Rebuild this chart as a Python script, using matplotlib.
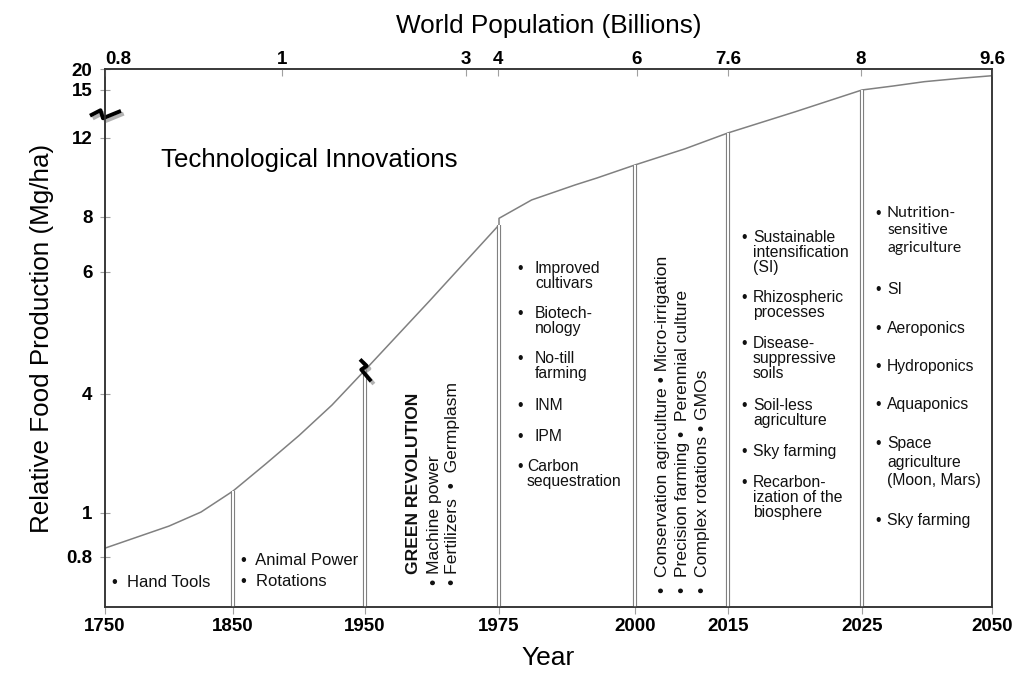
import matplotlib
matplotlib.use("Agg")
import matplotlib.pyplot as plt
import matplotlib.patheffects as pe
import numpy as np
from matplotlib.markers import MarkerStyle
from matplotlib.path import Path
from matplotlib.transforms import Affine2D

plt.rcParams["font.family"] = ["Liberation Sans", "DejaVu Sans"]

# relative food production curve (Mg/ha)
# (1975 appears twice: the curve steps up across the era boundary there)
YEARS = [1750, 1800, 1825, 1850, 1875, 1900, 1925, 1950, 1962, 1975, 1975, 1981, 1989, 1993, 2000,
         2008, 2015, 2020, 2025, 2031, 2037, 2044, 2050]
YIELD = [0.84, 0.94, 1.02, 1.55, 2.24, 2.95, 3.72, 4.39, 5.52, 7.71, 7.95, 8.86, 9.62, 9.97, 10.63,
         11.44, 12.31, 13.63, 15.0, 15.95, 16.98, 17.79, 18.4]
ERA_BOUNDS = [1850, 1950, 1975, 2000, 2015, 2025]
AXIS_BREAK = (1750, 13.5)

YEAR_TICKS = [1750, 1850, 1950, 1975, 2000, 2015, 2025, 2050]
YIELD_TICKS = [0.8, 1, 4, 6, 8, 12, 15, 20]
YIELD_LABELS = ["0.8", "1", "4", "6", "8", "12", "15", "20"]
POP_TICKS = [0.8, 1, 3, 4, 6, 7.6, 8, 9.6]
POP_LABELS = ["0.8", "1", "3", "4", "6", "7.6", "8", "9.6"]

ERA_1750 = ["Hand Tools"]
ERA_1850 = ["Animal Power", "Rotations"]
GREEN_REV = ["GREEN REVOLUTION", "\u2022 Machine power", "\u2022 Fertilizers  \u2022  Germplasm"]
ERA_1975 = ["Improved\ncultivars", "Biotech-\nnology", "No-till\nfarming", "INM", "IPM", "Carbon\nsequestration"]
ERA_2000 = ["\u2022  Conservation agriculture \u2022 Micro-irrigation",
            "\u2022  Precision farming \u2022  Perennial culture",
            "\u2022  Complex rotations \u2022 GMOs"]
ERA_2015 = ["Sustainable\nintensification\n(SI)", "Rhizospheric\nprocesses", "Disease-\nsuppressive\nsoils",
            "Soil-less\nagriculture", "Sky farming", "Recarbon-\nization of the\nbiosphere"]
ERA_2025 = ["Nutrition-\nsensitive\nagriculture", "SI", "Aeroponics", "Hydroponics", "Aquaponics",
            "Space\nagriculture\n(Moon, Mars)", "Sky farming"]

# both axes are stretched piecewise: where each tick sits along the axis (fraction)
X_POS = [0, 0.1443, 0.2931, 0.4442, 0.5975, 0.7024, 0.8534, 1.0]
Y_KNOTS = [0.6, 0.8, 1, 4, 6, 8, 12, 15, 20]
Y_POS = [0, 0.093, 0.175, 0.396, 0.623, 0.725, 0.872, 0.961, 1.0]
P_POS = [0, 0.1996, 0.4066, 0.4427, 0.5994, 0.7026, 0.8523, 1.0]


def piecewise(knots, pos):
    return (lambda v: np.interp(v, knots, pos), lambda p: np.interp(p, pos, knots))


# layout helpers: reference pixel -> axes fraction
def fx(px):
    return (px - 105) / 887


def fy(py):
    return (607 - py) / 538


GRAY = "#808080"
SPINE = "#333333"

fig = plt.figure(figsize=(10.24, 6.75), dpi=100)
ax = fig.add_axes([105 / 1024, 68 / 675, 887 / 1024, 538 / 675])
ax.set_xscale("function", functions=piecewise(YEAR_TICKS, X_POS))
ax.set_yscale("function", functions=piecewise(Y_KNOTS, Y_POS))
ax.set_xlim(1750, 2050)
ax.set_ylim(0.6, 20)

ax.plot(YEARS, YIELD, color=GRAY, lw=1.1, zorder=2)
tops = [YIELD[YEARS.index(y)] for y in ERA_BOUNDS]
ax.vlines(ERA_BOUNDS, 0.6, tops, color=GRAY, lw=3.0, zorder=3)
ax.vlines(ERA_BOUNDS, 0.6, tops, color="white", lw=1.4, zorder=4)

# axis-break marks
zig = Path([(-0.94, -0.11), (-0.28, 0.23), (-0.13, -0.27), (1.0, 0.19)])
shadow = [pe.SimpleLineShadow(offset=(2, -2), shadow_color="0.5", alpha=0.6), pe.Normal()]
ax.plot([AXIS_BREAK[0]], [AXIS_BREAK[1]], ls="none", marker=MarkerStyle(zig, fillstyle="none"),
        ms=23, mew=2.8, mec="black", clip_on=False, zorder=6, path_effects=shadow)
ax.plot([1950], [YIELD[YEARS.index(1950)]], ls="none",
        marker=MarkerStyle(zig, fillstyle="none", transform=Affine2D().rotate_deg(-72)),
        ms=18, mew=2.8, mec="black", zorder=6, path_effects=shadow)

for s in ax.spines.values():
    s.set_color(SPINE)
    s.set_linewidth(1.1)

ax.set_xticks(YEAR_TICKS)
ax.set_xticklabels([str(y) for y in YEAR_TICKS], fontweight="bold", fontsize=13.5)
ax.set_yticks(YIELD_TICKS)
ax.set_yticklabels(YIELD_LABELS, fontweight="bold", fontsize=13.5)
ax.minorticks_off()
ax.tick_params(axis="x", direction="out", length=5, width=0.8, color="#a0a0a0", pad=3, top=False)
ax.tick_params(axis="y", direction="inout", length=7, width=0.8, color="#a0a0a0", pad=5.5, right=False)
ax.set_xlabel("Year", fontsize=19)
ax.xaxis.set_label_coords(0.5, -0.072)
ax.set_ylabel("Relative Food Production (Mg/ha)", fontsize=18.7)
ax.yaxis.set_label_coords(-0.058, 0.5)

ax2 = ax.twiny()
ax2.set_xscale("function", functions=piecewise(POP_TICKS, P_POS))
ax2.set_xlim(0.8, 9.6)
ax2.set_xticks(POP_TICKS)
ax2.set_xticklabels(POP_LABELS, fontweight="bold", fontsize=13.5)
ax2.minorticks_off()
ax2.get_xticklabels()[0].set_ha("left")
ax2.tick_params(axis="x", direction="in", length=5, width=0.8, color="#a0a0a0", pad=1)
for s in ax2.spines.values():
    s.set_color(SPINE)
    s.set_linewidth(1.1)
ax2.set_xlabel("World Population (Billions)", fontsize=18.8, labelpad=13)

ax.text(fx(161), fy(167), "Technological Innovations", fontsize=18.6, transform=ax.transAxes, va="baseline")

txt = dict(transform=ax.transAxes, fontsize=12, color="#111111")
ax.text(fx(112), fy(587), "\u2022  " + ERA_1750[0], va="baseline", **txt)
for item, py in zip(ERA_1850, [565, 586]):
    ax.text(fx(241), fy(py), "\u2022  " + item, va="baseline", **txt)

rot = dict(transform=ax.transAxes, rotation=90, rotation_mode="anchor", ha="left", va="center",
           fontsize=12.6, color="#111111")
for line, px, py in zip(GREEN_REV, [413, 434, 453], [574, 585, 585]):
    ax.text(fx(px), fy(py), line, fontweight="bold" if line.isupper() else "normal", **rot)
for line, px in zip(ERA_2000, [662, 683, 703]):
    ax.text(fx(px), fy(593), line, **rot)

small = dict(transform=ax.transAxes, fontsize=11.3, va="top", linespacing=0.98, color="#111111")
for item, py, tx in zip(ERA_1975, [261, 306, 351, 398, 429, 459], [535, 535, 535, 535, 535, 527]):
    ax.text(fx(517), fy(py), "\u2022", **small)
    ax.text(fx(tx), fy(py), item, **small)
for item, py in zip(ERA_2015, [230, 290, 336, 398, 444, 475]):
    ax.text(fx(741), fy(py), "\u2022", **small)
    ax.text(fx(753), fy(py), item, **small)
for i, (item, py) in enumerate(zip(ERA_2025, [206, 282, 321, 359, 397, 436, 513])):
    ax.text(fx(875), fy(py), "\u2022", **small)
    # the first entry is set in a different (Calibri-like) face in the original
    fam = ["Lato", "DejaVu Sans"] if i == 0 else ["Liberation Sans", "DejaVu Sans"]
    ax.text(fx(887), fy(py), item, family=fam, **dict(small, linespacing=1.3))

fig.savefig("out.png", dpi=100)
